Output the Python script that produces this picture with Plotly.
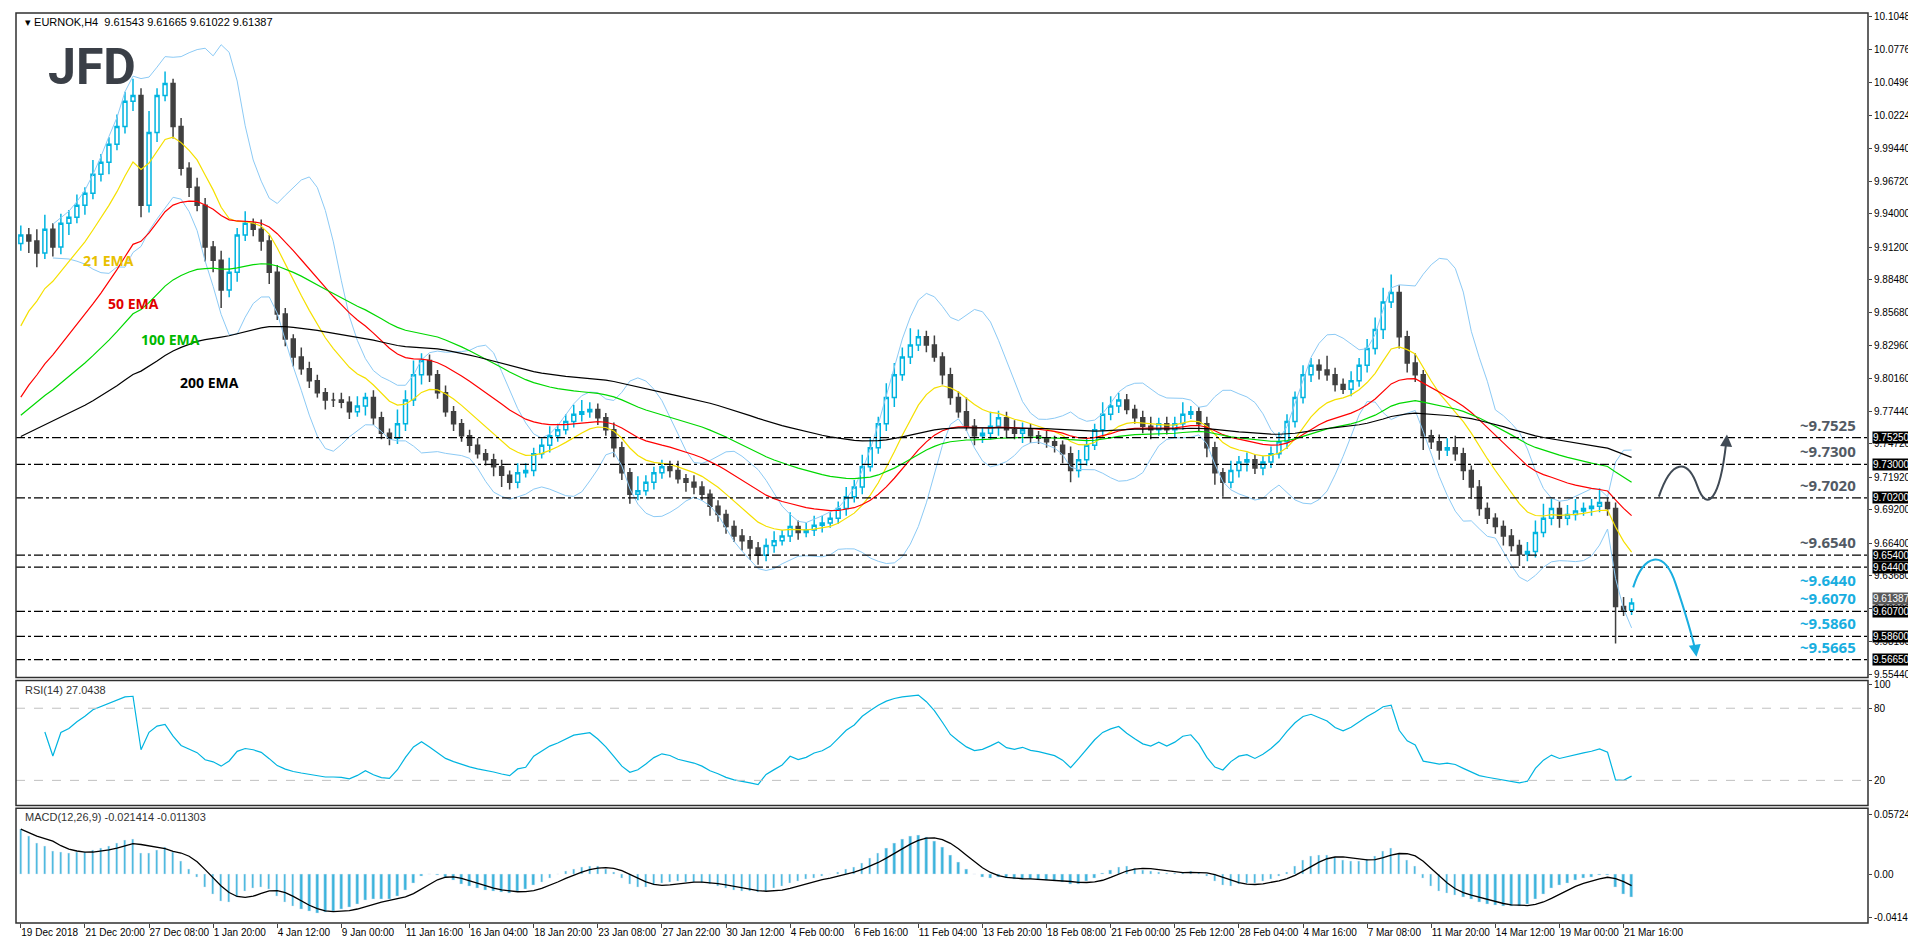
import pandas as pd
import plotly.graph_objects as go

# candles are 8h (two H4 bars each)
closes = [
    9.922, 9.917, 9.907, 9.927, 9.912, 9.932, 9.937, 9.947,
    9.957, 9.973, 9.983, 9.998, 10.013, 10.034, 10.039, 9.947,
    10.008, 10.039, 10.049, 10.013, 9.978, 9.962, 9.947, 9.912,
    9.901, 9.876, 9.891, 9.922, 9.932, 9.927, 9.917, 9.891,
    9.856, 9.835, 9.820, 9.810, 9.800, 9.790, 9.784, 9.784,
    9.782, 9.774, 9.779, 9.786, 9.769, 9.756, 9.752, 9.764,
    9.784, 9.805, 9.817, 9.805, 9.790, 9.774, 9.764, 9.754,
    9.746, 9.739, 9.734, 9.728, 9.721, 9.715, 9.723, 9.725,
    9.739, 9.746, 9.754, 9.759, 9.766, 9.772, 9.774, 9.776,
    9.769, 9.759, 9.744, 9.723, 9.705, 9.708, 9.715, 9.723,
    9.728, 9.725, 9.718, 9.715, 9.711, 9.705, 9.695, 9.688,
    9.678, 9.670, 9.666, 9.660, 9.654, 9.662, 9.666, 9.670,
    9.678, 9.673, 9.675, 9.679, 9.681, 9.685, 9.693, 9.703,
    9.711, 9.728, 9.744, 9.764, 9.786, 9.805, 9.820, 9.830,
    9.837, 9.830, 9.820, 9.805, 9.786, 9.774, 9.762, 9.754,
    9.756, 9.762, 9.769, 9.759, 9.756, 9.759, 9.754, 9.752,
    9.749, 9.746, 9.739, 9.725, 9.734, 9.746, 9.759, 9.772,
    9.779, 9.784, 9.776, 9.769, 9.762, 9.759, 9.764, 9.759,
    9.764, 9.772, 9.774, 9.764, 9.744, 9.723, 9.715, 9.725,
    9.732, 9.734, 9.727, 9.732, 9.739, 9.749, 9.766, 9.786,
    9.805, 9.813, 9.809, 9.805, 9.797, 9.793, 9.800, 9.813,
    9.827, 9.843, 9.866, 9.874, 9.837, 9.815, 9.805, 9.754,
    9.749, 9.742, 9.744, 9.739, 9.725, 9.711, 9.693, 9.685,
    9.678, 9.670, 9.662, 9.655, 9.657, 9.673, 9.685, 9.693,
    9.685, 9.688, 9.691, 9.693, 9.695, 9.698, 9.693, 9.611,
    9.608, 9.614,
]
first_open = 9.915

# wick lengths above/below the body, in thousandths
wick_up = [
    8, 6, 10, 12, 5, 8, 6, 9,   5, 12, 7, 6, 10, 8, 14, 6,
    18, 6, 10, 4, 7, 5, 8, 6,   5, 8, 12, 6, 10, 4, 8, 5,
    6, 5, 4, 8, 6, 5, 4, 6,     6, 5, 8, 4, 6, 5, 4, 12,
    8, 12, 6, 5, 4, 6, 5, 4,    5, 6, 4, 5, 6, 4, 8, 6,
    5, 6, 8, 5, 6, 8, 10, 6,    5, 4, 6, 5, 4, 12, 6, 5,
    6, 5, 8, 4, 6, 5, 4, 5,     4, 5, 6, 4, 5, 6, 8, 5,
    12, 5, 6, 8, 6, 5, 6, 8,    6, 10, 8, 6, 12, 10, 8, 14,
    6, 5, 8, 4, 6, 5, 12, 6,    5, 12, 6, 5, 8, 6, 5, 4,
    6, 5, 4, 6, 8, 6, 5, 10,    8, 6, 5, 4, 6, 8, 5, 6,
    6, 10, 5, 4, 6, 5, 4, 8,    5, 6, 4, 5, 6, 8, 6, 5,
    8, 6, 5, 12, 6, 5, 8, 6,    8, 10, 12, 15, 6, 5, 8, 4,
    5, 6, 8, 10, 5, 4, 6, 5,    4, 5, 6, 5, 8, 10, 12, 8,
    6, 8, 10, 5, 6, 12, 4, 5,   8, 4,
]
wick_dn = [
    6, 10, 12, 5, 8, 6, 10, 5,  8, 5, 6, 10, 5, 6, 8, 10,
    6, 8, 5, 10, 6, 8, 5, 12,   10, 15, 6, 8, 5, 6, 8, 10,
    5, 6, 8, 5, 6, 4, 8, 6,     5, 6, 4, 8, 6, 5, 6, 5,
    6, 5, 8, 6, 5, 4, 6, 5,     6, 4, 5, 8, 10, 6, 5, 4,
    5, 4, 6, 5, 4, 5, 6, 5,     6, 5, 8, 6, 8, 5, 4, 6,
    5, 6, 4, 8, 6, 5, 8, 6,     6, 5, 8, 10, 8, 5, 6, 4,
    5, 6, 4, 5, 6, 4, 5, 6,     5, 6, 4, 5, 6, 8, 5, 6,
    5, 6, 4, 8, 6, 5, 4, 8,     6, 5, 8, 6, 5, 8, 6, 5,
    5, 6, 8, 10, 6, 5, 4, 6,    5, 6, 4, 5, 6, 8, 5, 4,
    6, 5, 4, 6, 8, 10, 12, 5,   6, 8, 5, 6, 5, 4, 6, 5,
    5, 6, 8, 5, 6, 4, 6, 5,     6, 5, 8, 5, 10, 8, 6, 12,
    6, 8, 5, 6, 8, 10, 6, 5,    6, 8, 5, 10, 6, 5, 4, 6,
    8, 6, 5, 4, 6, 5, 6, 31,    5, 4,
]

date_labels = ["19 Dec 2018", "21 Dec 20:00", "27 Dec 08:00", "1 Jan 20:00", "4 Jan 12:00",
               "9 Jan 00:00", "11 Jan 16:00", "16 Jan 04:00", "18 Jan 20:00", "23 Jan 08:00",
               "27 Jan 22:00", "30 Jan 12:00", "4 Feb 00:00", "6 Feb 16:00", "11 Feb 04:00",
               "13 Feb 20:00", "18 Feb 08:00", "21 Feb 00:00", "25 Feb 12:00", "28 Feb 04:00",
               "4 Mar 16:00", "7 Mar 08:00", "11 Mar 20:00", "14 Mar 12:00", "19 Mar 00:00",
               "21 Mar 16:00"]

price_ticks = [10.1048, 10.0776, 10.0496, 10.0224, 9.9944, 9.9672, 9.94, 9.912, 9.8848, 9.8568,
               9.8296, 9.8016, 9.7744, 9.7472, 9.7192, 9.692, 9.664, 9.6368, 9.6096, 9.5816, 9.5544]

levels = [9.7525, 9.7300, 9.7020, 9.6540, 9.6440, 9.6070, 9.5860, 9.5665]
level_text = ["~9.7525", "~9.7300", "~9.7020", "~9.6540", "~9.6440", "~9.6070", "~9.5860", "~9.5665"]
level_col = ["#525a64"] * 4 + ["#19aee0"] * 4

# EMA periods halved since each candle is two H4 bars; seeds read at the left edge
ema_periods = [10.5, 25, 50, 100]
ema_seeds = [9.83, 9.775, 9.765, 9.75]
ema_colors = ["#f5e000", "#ff0000", "#00d800", "#000000"]

df = pd.DataFrame({"close": closes})
df["open"] = [first_open] + closes[:-1]
df["high"] = df[["open", "close"]].max(axis=1) + pd.Series(wick_up) / 1000
df["low"] = df[["open", "close"]].min(axis=1) - pd.Series(wick_dn) / 1000
x = list(range(len(df)))


def ema(vals, period, seed):
    a = 2 / (period + 1)
    out, e = [], seed
    for v in vals:
        e = e + a * (v - e)
        out.append(e)
    return out


mid = df["close"].rolling(10, min_periods=5).mean()
sd = df["close"].rolling(10, min_periods=5).std(ddof=0)
bb_up, bb_dn = mid + 2 * sd, mid - 2 * sd

d = df["close"].diff().fillna(0)
gain = d.clip(lower=0).ewm(alpha=1 / 11, adjust=False).mean()
loss = (-d).clip(lower=0).ewm(alpha=1 / 11, adjust=False).mean()
rsi = 100 - 100 / (1 + gain / loss.replace(0, 1e-9))
rsi.iloc[:3] = None

macd = pd.Series(ema(closes, 6, 9.92)) - pd.Series(ema(closes, 13, 9.87))
signal = macd.rolling(5, min_periods=1).mean()

fig = go.Figure()

# Bollinger bands
for band in (bb_up, bb_dn):
    fig.add_trace(go.Scatter(x=x, y=band, mode="lines", line=dict(color="#8ccaf5", width=1),
                             xaxis="x", yaxis="y", hoverinfo="skip"))

for p, s, c in zip(ema_periods, ema_seeds, ema_colors):
    fig.add_trace(go.Scatter(x=x, y=ema(closes, p, s), mode="lines", line=dict(color=c, width=1.2),
                             xaxis="x", yaxis="y", hoverinfo="skip"))

fig.add_trace(go.Candlestick(
    x=x, open=df["open"], high=df["high"], low=df["low"], close=df["close"],
    increasing=dict(line=dict(color="#00b4e0", width=1.5), fillcolor="#ffffff"),
    decreasing=dict(line=dict(color="#404040", width=1.5), fillcolor="#404040"),
    whiskerwidth=0, xaxis="x", yaxis="y"))

fig.add_trace(go.Scatter(x=x, y=rsi, mode="lines", line=dict(color="#00b4e0", width=1.2),
                         xaxis="x", yaxis="y2"))

fig.add_trace(go.Bar(x=x, y=macd, marker_color="#3cb4dc", width=0.3, xaxis="x", yaxis="y3"))
fig.add_trace(go.Scatter(x=x, y=signal, mode="lines", line=dict(color="#000000", width=1.3),
                         xaxis="x", yaxis="y3"))

shapes = []
for lv in levels:
    shapes.append(dict(type="line", xref="paper", x0=0, x1=1, yref="y", y0=lv, y1=lv,
                       line=dict(color="black", width=1.3, dash="dashdot")))
for yv in (20, 80):
    shapes.append(dict(type="line", xref="paper", x0=0, x1=1, yref="y2", y0=yv, y1=yv,
                       line=dict(color="#c0c0c0", width=1, dash="dash")))
# panel frames
for y0, y1 in ((0.2697, 1.0), (0.129, 0.2664), (0.0, 0.126)):
    shapes.append(dict(type="rect", xref="paper", yref="paper", x0=0, x1=1, y0=y0, y1=y1,
                       line=dict(color="#303030", width=1.5)))
# scenario arrows
shapes.append(dict(type="path", xref="x", yref="y",
                   path="M 204.4,9.703 C 206,9.735 208,9.735 209.2,9.712 S 212,9.70 212.8,9.748",
                   line=dict(color="#404a55", width=2)))
shapes.append(dict(type="path", xref="x", yref="y",
                   path="M 201.2,9.627 C 202.5,9.655 205,9.660 206.5,9.630 S 208.6,9.585 209,9.573",
                   line=dict(color="#19aee0", width=2)))

ann = []
ann.append(dict(x=212.9, y=9.755, ax=212.8, ay=9.745, xref="x", yref="y", axref="x", ayref="y",
                showarrow=True, arrowhead=2, arrowsize=1.2, arrowwidth=2, arrowcolor="#404a55", text=""))
ann.append(dict(x=209.1, y=9.569, ax=208.9, ay=9.578, xref="x", yref="y", axref="x", ayref="y",
                showarrow=True, arrowhead=2, arrowsize=1.2, arrowwidth=2, arrowcolor="#19aee0", text=""))

box_font = dict(size=10, color="white", family="Liberation Sans")
for lv, t, c in zip(levels, level_text, level_col):
    below = t == "~9.6440"
    ann.append(dict(x=0.9946, xref="paper", y=lv, yref="y", text=f"<b>{t}</b>", showarrow=False,
                    xanchor="right", yanchor="top" if below else "bottom", yshift=-1 if below else 1,
                    font=dict(size=15, color=c, family="Open Sans")))
    ann.append(dict(x=1.002, xref="paper", y=lv, yref="y", text=f"{lv:.5f}", showarrow=False,
                    xanchor="left", bgcolor="#000000", font=box_font, borderpad=0))
ann.append(dict(x=1.002, xref="paper", y=closes[-1], yref="y", text=f"{9.61387:.5f}", showarrow=False,
                xanchor="left", yshift=4, bgcolor="#5a5a5a", font=box_font, borderpad=0))

ann.append(dict(x=0.004, y=0.999, xref="paper", yref="paper", xanchor="left", yanchor="top", showarrow=False,
                text="▾ EURNOK,H4  9.61543 9.61665 9.61022 9.61387",
                font=dict(size=11, color="black", family="Liberation Sans")))
ann.append(dict(x=0.016, y=0.975, xref="paper", yref="paper", xanchor="left", yanchor="top", showarrow=False,
                text="<b>JFD</b>", font=dict(size=50, color="#3a3f47", family="Roboto")))
for t, c, px, py in (("21 EMA", "#e8c000", 73, 240), ("50 EMA", "#e00000", 98, 283),
                     ("100 EMA", "#00b800", 132, 330), ("200 EMA", "#000000", 171, 373)):
    ann.append(dict(x=(px - 8) / 1862, y=(915 - py) / 912, xref="paper", yref="paper", showarrow=False,
                    xanchor="left", text=f"<b>{t}</b>", font=dict(size=14, color=c, family="Open Sans")))
ann.append(dict(x=0.004, y=0.265, xref="paper", yref="paper", xanchor="left", yanchor="top", showarrow=False,
                text="RSI(14) 27.0438", font=dict(size=11, color="#333", family="Liberation Sans")))
ann.append(dict(x=0.004, y=0.125, xref="paper", yref="paper", xanchor="left", yanchor="top", showarrow=False,
                text="MACD(12,26,9) -0.021414 -0.011303", font=dict(size=11, color="#333", family="Liberation Sans")))

tick_font = dict(size=10, color="black", family="Liberation Sans")
yax = dict(side="right", ticks="outside", ticklen=3, showgrid=False, zeroline=False,
           tickfont=tick_font, showline=False)

fig.update_layout(
    width=1916, height=936,
    margin=dict(l=8, r=56, t=3, b=21),
    plot_bgcolor="white", paper_bgcolor="white",
    showlegend=False, bargap=0,
    font=dict(family="Liberation Sans"),
    shapes=shapes, annotations=ann,
    xaxis=dict(range=[-0.6, 230.5], tickvals=list(range(0, 201, 8)), ticktext=date_labels,
               ticks="outside", ticklen=4, ticklabelposition="outside right", tickangle=0,
               showgrid=False, tickfont=tick_font,
               rangeslider=dict(visible=False), anchor="y3", zeroline=False),
    yaxis=dict(domain=[0.2697, 1.0], range=[9.5515, 10.108],
               tickvals=price_ticks, ticktext=[f"{v:.5f}" for v in price_ticks], **yax),
    yaxis2=dict(domain=[0.129, 0.2664], range=[-1, 103], tickvals=[20, 80, 100], **yax),
    yaxis3=dict(domain=[0.0, 0.126], range=[-0.047, 0.063], tickvals=[0.057243, 0.0, -0.041435],
                ticktext=["0.057243", "0.00", "-0.041435"], **yax),
)

fig.write_html("out.html")
